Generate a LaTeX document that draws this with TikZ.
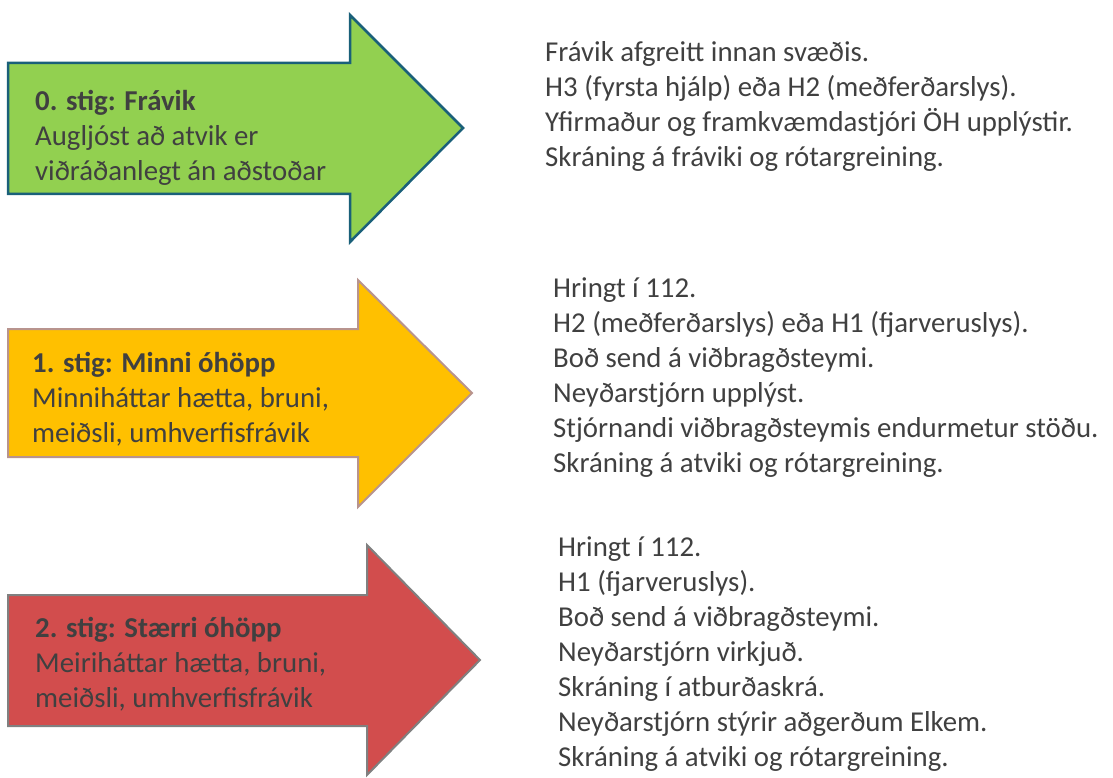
\documentclass[tikz,border=0pt]{standalone}
\usepackage{fontspec}
\setmainfont{Carlito}
\usepackage{tikz}
\usetikzlibrary{calc}
\definecolor{stigtxt}{HTML}{404040}
\definecolor{stiggreen}{HTML}{92D050}
\definecolor{stigteal}{HTML}{1A6079}
\definecolor{stigyellow}{HTML}{FFC000}
\definecolor{stigrose}{HTML}{B8948E}
\definecolor{stigred}{HTML}{D24D4D}
\definecolor{stiggray}{HTML}{808080}
% body left, body top, body bottom, head base, head top, head bottom, tip x, tip y
\def\stigarrow[#1](#2,#3,#4)(#5,#6,#7)(#8,#9){\draw[#1] (#2,#3) -- (#5,#3) -- (#5,#6) -- (#8,#9) -- (#5,#7) -- (#5,#4) -- (#2,#4) -- cycle;}
\tikzset{
	stigtext/.style={text=stigtxt, align=left, inner sep=0pt, anchor=base west,
		font=\fontsize{28.8}{35}\selectfont},
}

\begin{document}
\begin{tikzpicture}[x=1pt, y=-1pt]
			%%%%% START %%%%%
			
			\useasboundingbox (0, 0) rectangle (1113, 778);
			
			\stigarrow[line width=2.5pt, draw=stigteal, fill=stiggreen](8, 63, 194)(350, 15, 242)(463, 128)
			\stigarrow[line width=2pt, draw=stigrose, fill=stigyellow](8, 329, 457)(358, 280, 507)(472, 393)
			\stigarrow[line width=2pt, draw=stiggray, fill=stigred](8, 595, 726)(367, 545, 775)(480, 660)
			
			% anchored at the baseline of the last line
			\node[stigtext] (stig0) at (35, 181) {\textbf{0. stig: Frávik}\\Augljóst að atvik er\\viðráðanlegt án aðstoðar};
			\node[stigtext] (stig1) at (32, 442) {\textbf{1. stig: Minni óhöpp}\\Minniháttar hætta, bruni,\\meiðsli, umhverfisfrávik};
			\node[stigtext] (stig2) at (35, 707) {\textbf{2. stig: Stærri óhöpp}\\Meiriháttar hætta, bruni,\\meiðsli, umhverfisfrávik};
			
			\node[stigtext] (todo0) at (545, 167) {Frávik afgreitt innan svæðis.\\H3 (fyrsta hjálp) eða H2 (meðferðarslys).\\Yfirmaður og framkvæmdastjóri ÖH upplýstir.\\Skráning á fráviki og rótargreining.};
			\node[stigtext] (todo1) at (553, 472) {Hringt í 112.\\H2 (meðferðarslys) eða H1 (fjarveruslys).\\Boð send á viðbragðsteymi.\\Neyðarstjórn upplýst.\\Stjórnandi viðbragðsteymis endurmetur stöðu.\\Skráning á atviki og rótargreining.};
			\node[stigtext] (todo2) at (558, 766) {Hringt í 112.\\H1 (fjarveruslys).\\Boð send á viðbragðsteymi.\\Neyðarstjórn virkjuð.\\Skráning í atburðaskrá.\\Neyðarstjórn stýrir aðgerðum Elkem.\\Skráning á atviki og rótargreining.};
			
			%%%%% END %%%%%
\end{tikzpicture}
\end{document}
